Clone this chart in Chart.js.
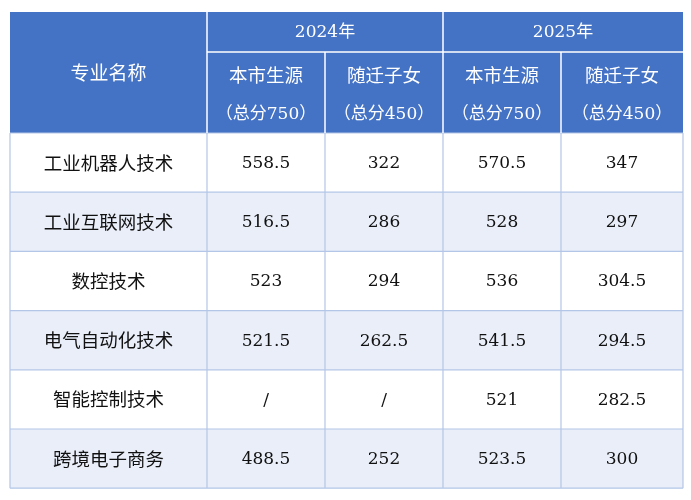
<!DOCTYPE html>
<html><head><meta charset="utf-8">
<script src="https://cdn.jsdelivr.net/npm/chart.js@4"></script>
<style>html,body{margin:0;padding:0;background:#fff}#w{width:691px;height:500px}</style>
</head><body><div id="w"><canvas id="c"></canvas></div>
<script>
const years = ['2024年', '2025年'];
const subHeads = ['本市生源', '随迁子女', '本市生源', '随迁子女'];
const subNotes = ['（总分750）', '（总分450）', '（总分750）', '（总分450）'];
const majors = ['工业机器人技术', '工业互联网技术', '数控技术', '电气自动化技术', '智能控制技术', '跨境电子商务'];
const local2024 = ['558.5', '516.5', '523', '521.5', '/', '488.5'];
const migrant2024 = ['322', '286', '294', '262.5', '/', '252'];
const local2025 = ['570.5', '528', '536', '541.5', '521', '523.5'];
const migrant2025 = ['347', '297', '304.5', '294.5', '282.5', '300'];
const firstHead = '专业名称';

const colX = [10, 207, 325, 443, 561, 683];
const headY = [12, 52, 133];
const rowH = 59.2;

const tablePlugin = {
  id: 'table',
  afterDraw(chart) {
    const ctx = chart.ctx, xs = chart.scales.x, ys = chart.scales.y;
    const X = v => xs.getPixelForValue(v), Y = v => ys.getPixelForValue(v);
    const cols = [local2024, migrant2024, local2025, migrant2025];
    const blue = '#4472c4', alt = '#e9eef8', line = '#b4c6e7';
    const txt = (s, x, y, font, color) => { ctx.font = font; ctx.fillStyle = color; ctx.textAlign = 'center'; ctx.textBaseline = 'middle'; ctx.fillText(s, x, y); };
    const fontNum = '17px "DejaVu Serif", "Noto Sans CJK SC"';
    const fontCJK = '18.5px "Noto Sans CJK SC"';
    ctx.save();
    ctx.fillStyle = blue;
    ctx.fillRect(X(colX[0]), Y(headY[0]), X(colX[5]) - X(colX[0]), Y(headY[2]) - Y(headY[0]));
    majors.forEach((m, i) => {
      const y0 = headY[2] + i * rowH;
      ctx.fillStyle = i % 2 ? alt : '#ffffff';
      ctx.fillRect(X(colX[0]), Y(y0), X(colX[5]) - X(colX[0]), Y(y0 + rowH) - Y(y0));
      txt(m, X((colX[0] + colX[1]) / 2), Y(y0 + rowH / 2), fontCJK, '#111');
      cols.forEach((c, j) => txt(c[i], X((colX[j + 1] + colX[j + 2]) / 2), Y(y0 + rowH / 2 + 1), fontNum, '#111'));
    });
    ctx.strokeStyle = line; ctx.lineWidth = 1.2;
    ctx.beginPath();
    for (let i = 0; i <= majors.length; i++) { const y = Y(headY[2] + i * rowH); ctx.moveTo(X(colX[0]), y); ctx.lineTo(X(colX[5]), y); }
    colX.forEach(x => { ctx.moveTo(X(x), Y(headY[2])); ctx.lineTo(X(x), Y(headY[2] + majors.length * rowH)); });
    ctx.stroke();
    ctx.strokeStyle = '#ffffff'; ctx.lineWidth = 1.5;
    ctx.beginPath();
    ctx.moveTo(X(colX[1]), Y(headY[1])); ctx.lineTo(X(colX[5]), Y(headY[1]));
    ctx.moveTo(X(colX[1]), Y(headY[0])); ctx.lineTo(X(colX[1]), Y(headY[2]));
    ctx.moveTo(X(colX[3]), Y(headY[0])); ctx.lineTo(X(colX[3]), Y(headY[2]));
    [2, 4].forEach(k => { ctx.moveTo(X(colX[k]), Y(headY[1])); ctx.lineTo(X(colX[k]), Y(headY[2])); });
    ctx.stroke();
    txt(firstHead, X((colX[0] + colX[1]) / 2), Y((headY[0] + headY[2]) / 2), '19px "Noto Sans CJK SC"', '#fff');
    years.forEach((yr, k) => txt(yr, X((colX[1 + 2 * k] + colX[3 + 2 * k]) / 2), Y((headY[0] + headY[1]) / 2 + 1), fontNum, '#fff'));
    subHeads.forEach((s, j) => {
      const cx = X((colX[j + 1] + colX[j + 2]) / 2);
      txt(s, cx, Y(75), fontCJK, '#fff');
      txt(subNotes[j], cx, Y(115), fontNum, '#fff');
    });
    ctx.restore();
  }
};

new Chart(document.getElementById('c'), {
  type: 'scatter',
  data: { datasets: [{ data: [] }] },
  options: {
    responsive: true, maintainAspectRatio: false, animation: false,
    layout: { padding: 0 },
    plugins: { legend: { display: false }, tooltip: { enabled: false } },
    scales: {
      x: { type: 'linear', min: 0, max: 691, display: false },
      y: { type: 'linear', min: 0, max: 500, reverse: true, display: false }
    }
  },
  plugins: [tablePlugin]
});
</script></body></html>
